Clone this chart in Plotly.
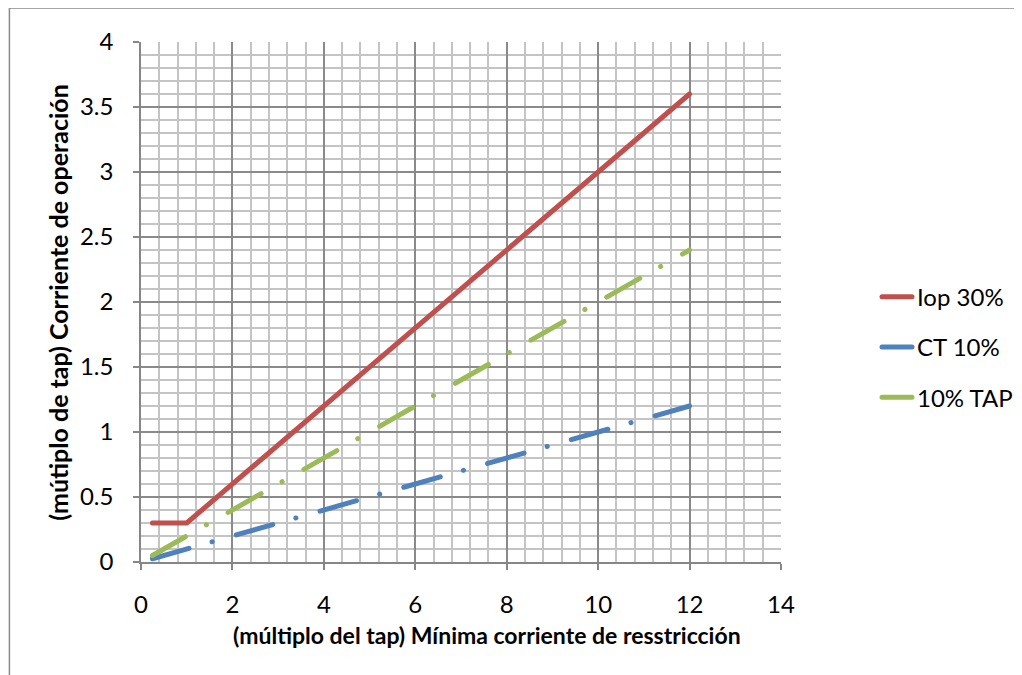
import plotly.graph_objects as go

# Data
iop_x = [0.25, 1, 12]
iop_y = [0.3, 0.3, 3.6]
ct_x = [0.25, 12]
ct_y = [0.025, 1.2]
tap_x = [0.25, 12]
tap_y = [0.05, 2.4]

x_ticks = [0, 2, 4, 6, 8, 10, 12, 14]
y_ticks = [0, 0.5, 1, 1.5, 2, 2.5, 3, 3.5, 4]

x_title = "<b>(múltiplo del tap) Mínima corriente de resstricción</b>"
y_title = "<b>(mútiplo de tap) Corriente de operación</b>"

RED = "#C0504D"
BLUE = "#4F81BD"
GREEN = "#9BBB59"
FONT = "Lato"
DASH = "38px,24px,0.1px,25px"

fig = go.Figure()
fig.add_trace(go.Scatter(x=iop_x, y=iop_y, mode="lines", name="Iop 30%",
                         legendgroup="a",
                         line=dict(color=RED, width=5)))
fig.add_trace(go.Scatter(x=ct_x, y=ct_y, mode="lines", name="CT 10%",
                         legendgroup="b",
                         line=dict(color=BLUE, width=5, dash=DASH)))
fig.add_trace(go.Scatter(x=tap_x, y=tap_y, mode="lines", name="10% TAP",
                         legendgroup="c",
                         line=dict(color=GREEN, width=5, dash=DASH)))

axis_common = dict(
    showline=True, linecolor="#868686", linewidth=1.5,
    ticks="outside", ticklen=6, tickcolor="#868686", tickwidth=1.5,
    showgrid=True, gridcolor="#8a8a8a", gridwidth=1.5,
    zeroline=False, automargin=False,
    tickfont=dict(family=FONT, size=24, color="#000"),
)

fig.update_xaxes(range=[0, 14], tickvals=x_ticks, ticklabelstandoff=14, **axis_common,
                 minor=dict(dtick=0.4, showgrid=True, gridcolor="#c4c4c4", gridwidth=1.5))
fig.update_yaxes(range=[0, 4], tickvals=y_ticks, ticklabelstandoff=15, **axis_common,
                 minor=dict(dtick=0.1, showgrid=True, gridcolor="#c4c4c4", gridwidth=1.5))

# axis titles (Excel centres the x title slightly right of the plot centre)
fig.add_annotation(text=x_title, xref="paper", yref="paper", x=0.54, y=-0.14,
                   xanchor="center", yanchor="middle", showarrow=False,
                   font=dict(family=FONT, size=23, color="#000"))
fig.add_annotation(text=y_title, xref="paper", yref="paper", x=-0.13, y=0.5,
                   xanchor="center", yanchor="middle", showarrow=False, textangle=-90,
                   font=dict(family=FONT, size=25, color="#000"))

fig.add_shape(type="rect", xref="paper", yref="paper",
              x0=-0.2056, x1=1.6, y0=-0.6, y1=1.0654,
              line=dict(color="#8a8a8a", width=1.5), fillcolor="rgba(0,0,0,0)", layer="below")

fig.update_layout(
    width=1022, height=675,
    margin=dict(l=133, r=247, t=34, b=121),
    paper_bgcolor="white", plot_bgcolor="white",
    showlegend=True,
    legend=dict(x=1.15, y=0.413, xanchor="left", yanchor="middle",
                font=dict(family=FONT, size=24, color="#000"),
                tracegroupgap=16, bgcolor="rgba(0,0,0,0)"),
)

round_caps = """
function rc(){document.querySelectorAll('path.js-line').forEach(function(p){p.style.strokeLinecap='round';p.style.strokeLinejoin='round';});}
rc(); setTimeout(rc, 50); setTimeout(rc, 300);
"""

fig.write_html("out.html", post_script=round_caps)
